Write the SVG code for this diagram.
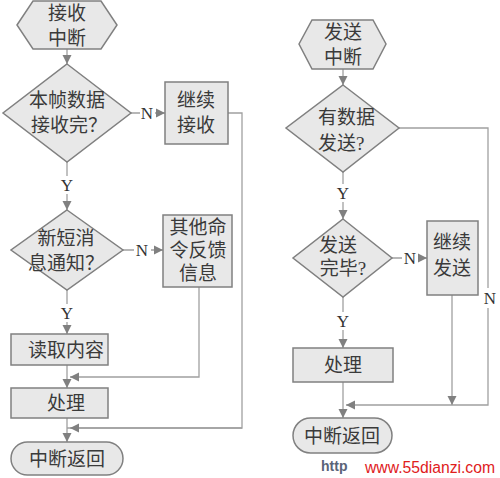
<svg xmlns="http://www.w3.org/2000/svg" width="500" height="478" viewBox="0 0 500 478">
<defs>
<marker id="arr" markerWidth="10" markerHeight="10" refX="9" refY="5" orient="auto" markerUnits="userSpaceOnUse"><path d="M0,0.5 L9,5 L0,9.5 Z" fill="#808080"/></marker>
<style>
.s{fill:#e8e8e8;stroke:#808080;stroke-width:1.5}
.l{fill:none;stroke:#a0a0a0;stroke-width:1.3}
.t{font-family:"Liberation Serif","Noto Sans CJK SC",serif;font-size:19px;fill:#3a3a3a;text-anchor:middle}
.ts{text-anchor:start}
.yn{font-family:"Liberation Serif",serif;font-size:17px;fill:#333;text-anchor:middle}
</style>
</defs>
<rect width="500" height="478" fill="#fff"/>
<g id="connectors">
<path class="l" d="M67,49 V64" marker-end="url(#arr)"/>
<path class="l" d="M131,113 H140 M155,113 H165" marker-end="url(#arr)"/>
<path class="l" d="M228,113 H242 V428 H67"/>
<path class="l" d="M242,428 H70" marker-end="url(#arr)"/>
<path class="l" d="M67,162 V176 M67,194 V210" marker-end="url(#arr)"/>
<path class="l" d="M123,250 H134 M151,250 H163" marker-end="url(#arr)"/>
<path class="l" d="M199,287 V377 H70" marker-end="url(#arr)"/>
<path class="l" d="M67,290 V304 M67,322 V334" marker-end="url(#arr)"/>
<path class="l" d="M67,365 V388" marker-end="url(#arr)"/>
<path class="l" d="M67,418 V442" marker-end="url(#arr)"/>
<path class="l" d="M343,69 V85" marker-end="url(#arr)"/>
<path class="l" d="M399,128 H488 V288 M488,308 V405 H346" marker-end="url(#arr)"/>
<path class="l" d="M343,172 V184 M343,202 V219" marker-end="url(#arr)"/>
<path class="l" d="M392,258 H402 M418,258 H427" marker-end="url(#arr)"/>
<path class="l" d="M452,295 V405" marker-end="url(#arr)"/>
<path class="l" d="M343,297 V312 M343,330 V348" marker-end="url(#arr)"/>
<path class="l" d="M343,382 V418" marker-end="url(#arr)"/>
<text class="yn" x="147" y="119">N</text>
<text class="yn" x="67" y="191">Y</text>
<text class="yn" x="142" y="256">N</text>
<text class="yn" x="67" y="319">Y</text>
<text class="yn" x="343" y="199">Y</text>
<text class="yn" x="410" y="264">N</text>
<text class="yn" x="490" y="304">N</text>
<text class="yn" x="343" y="327">Y</text>
</g>
<g id="recv-int">
<polygon class="s" points="17,25 33,1 101,1 117,25 101,49 33,49"/>
<text class="t" x="67" y="20">接收</text>
<text class="t" x="67" y="45">中断</text>
</g>
<g id="frame-done">
<polygon class="s" points="67,64 131,113 67,162 3,113"/>
<text class="t" x="67" y="107">本帧数据</text>
<text class="t ts" x="31" y="132">接收完？</text>
</g>
<g id="cont-recv">
<rect class="s" x="165" y="82" width="63" height="62"/>
<text class="t" x="196" y="107">继续</text>
<text class="t" x="196" y="132">接收</text>
</g>
<g id="new-sms">
<polygon class="s" points="67,210 123,250 67,290 11,250"/>
<text class="t" x="66" y="245">新短消</text>
<text class="t" x="66" y="270">息通知？</text>
</g>
<g id="other-cmd">
<rect class="s" x="163" y="215" width="69" height="72"/>
<text class="t" x="198" y="234">其他命</text>
<text class="t" x="198" y="257">令反馈</text>
<text class="t" x="198" y="280">信息</text>
</g>
<g id="read">
<rect class="s" x="11" y="334" width="97" height="31"/>
<text class="t" x="66" y="357">读取内容</text>
</g>
<g id="proc-l">
<rect class="s" x="11" y="388" width="97" height="30"/>
<text class="t" x="66" y="410">处理</text>
</g>
<g id="ret-l">
<rect class="s" x="11" y="442" width="112" height="33" rx="16.5"/>
<text class="t" x="67" y="466">中断返回</text>
</g>
<g id="send-int">
<polygon class="s" points="299,44 312,20 373,20 386,44 373,69 312,69"/>
<text class="t" x="343" y="39">发送</text>
<text class="t" x="343" y="64">中断</text>
</g>
<g id="has-data">
<polygon class="s" points="343,85 399,128 343,172 286,128"/>
<text class="t ts" x="318" y="124">有数据</text>
<text class="t ts" x="318" y="150">发送?</text>
</g>
<g id="send-done">
<polygon class="s" points="343,219 392,258 343,297 293,258"/>
<text class="t" x="338" y="252">发送</text>
<text class="t" x="343" y="275">完毕?</text>
</g>
<g id="cont-send">
<rect class="s" x="427" y="221" width="51" height="74"/>
<text class="t" x="452" y="249">继续</text>
<text class="t" x="452" y="275">发送</text>
</g>
<g id="proc-r">
<rect class="s" x="293" y="348" width="100" height="34"/>
<text class="t" x="343" y="372">处理</text>
</g>
<g id="ret-r">
<rect class="s" x="293" y="418" width="99" height="35" rx="17.5"/>
<text class="t" x="342" y="443">中断返回</text>
</g>
<text x="321" y="471" font-family="Liberation Sans,sans-serif" font-size="14" font-weight="bold" fill="#5a6478">http</text>
<text x="365" y="473" font-family="Liberation Sans,sans-serif" font-size="16" fill="#e0201c" textLength="130" lengthAdjust="spacingAndGlyphs">www.55dianzi.com</text>
</svg>
